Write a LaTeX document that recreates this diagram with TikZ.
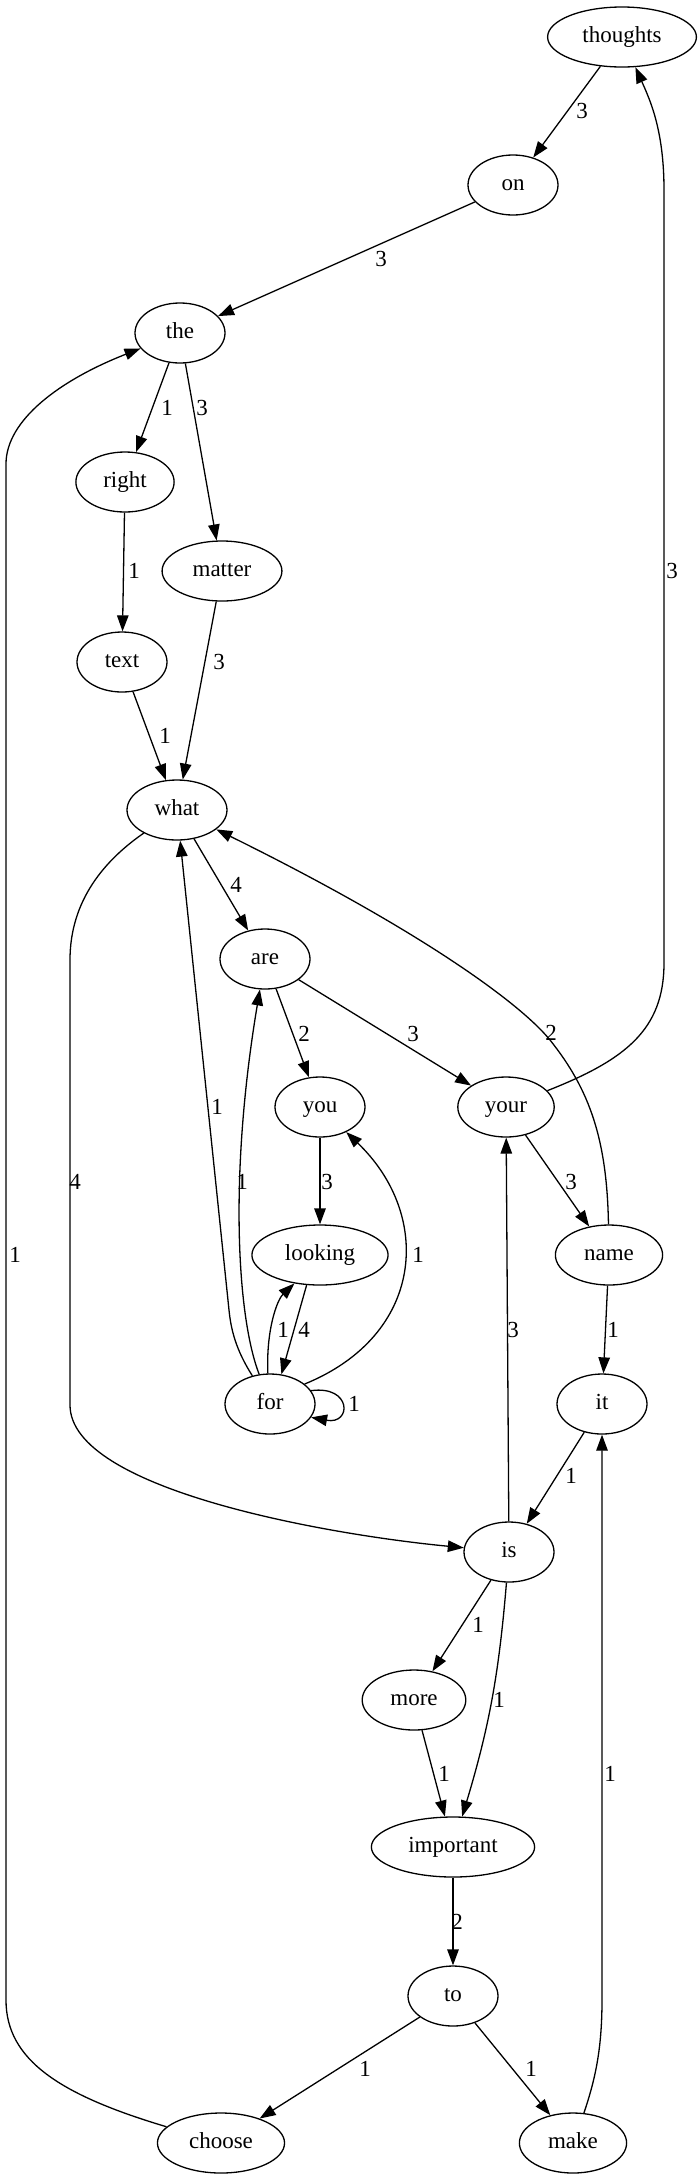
\documentclass[tikz,border=0pt]{standalone}
\usepackage{fontspec}
\setmainfont{Liberation Serif}
\usetikzlibrary{shapes.geometric}
\usetikzlibrary{arrows.meta}

\begin{document}
\begin{tikzpicture}[x=1pt,y=-1pt,
  word/.style={ellipse,draw,line width=1.3pt,minimum width=90pt,minimum height=60pt,
    inner xsep=13pt,inner ysep=3pt,text height=16pt,text depth=5pt,
    font=\fontsize{23}{27}\selectfont},
  arr/.style={-{Triangle[length=16pt,width=11.5pt]},line width=1.3pt},
  lbl/.style={font=\fontsize{23}{27}\selectfont,inner sep=0pt}
]
  \useasboundingbox (0,0) rectangle (700,2182);
  \node[word] (thoughts) at (622,37) {thoughts};
  \node[word] (on) at (513,185) {on};
  \node[word] (the) at (180,333) {the};
  \node[word] (right) at (125,482) {right};
  \node[word] (matter) at (222,571) {matter};
  \node[word] (text) at (122,662) {text};
  \node[word] (what) at (177,810) {what};
  \node[word] (are) at (265,959) {are};
  \node[word] (you) at (320,1107) {you};
  \node[word] (your) at (506,1107) {your};
  \node[word] (looking) at (320,1255) {looking};
  \node[word] (name) at (609,1255) {name};
  \node[word] (for) at (270,1404) {for};
  \node[word] (it) at (602,1404) {it};
  \node[word] (is) at (509,1552) {is};
  \node[word] (more) at (414,1700) {more};
  \node[word] (important) at (453,1847) {important};
  \node[word] (to) at (453,1996) {to};
  \node[word] (choose) at (221,2143) {choose};
  \node[word] (make) at (573,2143) {make};
  \draw[arr] (thoughts) -- (on) node[lbl] at (582,111) {3};
  \draw[arr] (on) -- (the) node[lbl] at (381,259) {3};
  \draw[arr] (the) -- (right) node[lbl] at (167,408) {1};
  \draw[arr] (the) -- (matter) node[lbl] at (202,408) {3};
  \draw[arr] (right) -- (text) node[lbl] at (134,571) {1};
  \draw[arr] (matter) -- (what) node[lbl] at (219,662) {3};
  \draw[arr] (text) -- (what) node[lbl] at (165,736) {1};
  \draw[arr] (what) -- (are) node[lbl] at (236,885) {4};
  \draw[arr] (what) .. controls (105,860) and (70,900) .. (70,960) -- (70,1405)
    .. controls (70,1490) and (330,1535) .. (is) node[lbl] at (75,1182) {4};
  \draw[arr] (are) -- (you) node[lbl] at (304,1034) {2};
  \draw[arr] (are) -- (your) node[lbl] at (413,1034) {3};
  \draw[arr] (name) .. controls (607,1140) and (590,1090) .. (550,1040)
    .. controls (520,1003) and (420,930) .. (what) node[lbl] at (551,1033) {2};
  \draw[arr] (your) .. controls (625,1060) and (664,1030) .. (664,963) -- (664,190)
    .. controls (664,130) and (650,100) .. (thoughts) node[lbl] at (672,571) {3};
  \draw[arr] (you) -- (looking) node[lbl] at (327,1182) {3};
  \draw[arr] (your) -- (name) node[lbl] at (571,1182) {3};
  \draw[arr] (for.122) .. controls (236,1350) and (231,1330) .. (229,1310) -- (what)
    node[lbl] at (217,1107) {1};
  \draw[arr] (for.110) .. controls (238,1320) and (228,1180) .. (are) node[lbl] at (242,1182) {1};
  \draw[arr] (for.94) .. controls (266,1330) and (277,1300) .. (looking.228)
    node[lbl] at (283,1330) {1};
  \draw[arr] (looking.246) -- (for.69) node[lbl] at (304,1330) {4};
  \draw[arr] (for.30) .. controls (425,1335) and (433,1215) .. (you) node[lbl] at (418,1255) {1};
  \draw[arr] (for.18) .. controls (352,1385) and (352,1425) .. (for.-18) node[lbl] at (354,1404) {1};
  \draw[arr] (name) -- (it) node[lbl] at (613,1330) {1};
  \draw[arr] (it) -- (is) node[lbl] at (571,1476) {1};
  \draw[arr] (is) -- (your) node[lbl] at (513,1330) {3};
  \draw[arr] (is) -- (more) node[lbl] at (478,1625) {1};
  \draw[arr] (is) to[bend left=6] (important) node[lbl] at (499,1700) {1};
  \draw[arr] (more) -- (important) node[lbl] at (444,1774) {1};
  \draw[arr] (important) -- (to) node[lbl] at (457,1922) {2};
  \draw[arr] (to) -- (choose) node[lbl] at (365,2069) {1};
  \draw[arr] (to) -- (make) node[lbl] at (531,2069) {1};
  \draw[arr] (make.70) .. controls (595,2080) and (602,2050) .. (602,2000) -- (it)
    node[lbl] at (610,1774) {1};
  \draw[arr] (choose) .. controls (60,2095) and (6,2060) .. (6,2000) -- (6,464)
    .. controls (6,420) and (60,380) .. (the) node[lbl] at (15,1255) {1};
\end{tikzpicture}
\end{document}
